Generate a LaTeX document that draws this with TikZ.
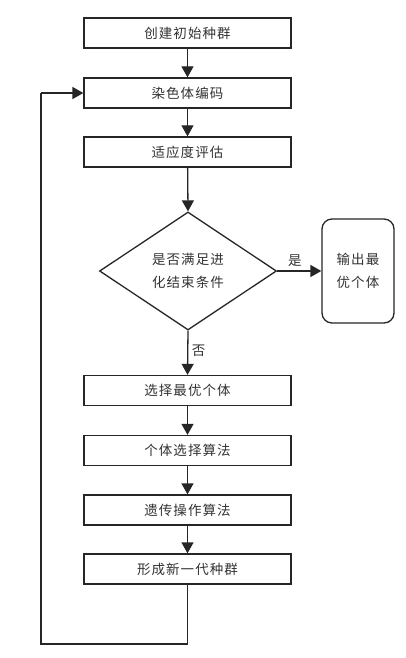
\documentclass[tikz,border=0pt]{standalone}
\usepackage{fontspec}
\newfontfamily\cjk[LetterSpace=8]{Noto Sans CJK SC}
\usetikzlibrary{shapes.geometric,arrows.meta}
\begin{document}
\begin{tikzpicture}[x=1pt,y=-1pt,
  every node/.style={font=\cjk\fontsize{13.5}{17}\selectfont, text=black!80},
  procbox/.style={draw=black!85, line width=1.3pt, minimum width=207pt, minimum height=30pt, inner sep=0pt},
  decide/.style={draw=black!85, line width=1.3pt, diamond, minimum width=177pt, minimum height=118pt, inner sep=0pt, align=center},
  outbox/.style={draw=black!85, line width=1.3pt, rounded corners=10pt, minimum width=72pt, minimum height=104pt, inner sep=0pt, align=center},
  flow/.style={draw=black!85, line width=1.3pt, -{Triangle[length=11pt,width=12pt]}},
  plain/.style={draw=black!85, line width=1.3pt},
  lbl/.style={font=\cjk\fontsize{13.5}{17}\selectfont}
]
\useasboundingbox (0,0) rectangle (405,658);
\fill[white] (0,0) rectangle (405,658);
\node[procbox] (b1) at (187.5,33) {创建初始种群};
\node[procbox] (b2) at (187.5,93) {染色体编码};
\node[procbox] (b3) at (187.5,152) {适应度评估};
\node[decide] (d) at (188,271) {是否满足进\\[6pt]化结束条件};
\node[outbox] (o) at (358,271) {输出最\\[6pt]优个体};
\node[procbox] (b4) at (187.5,390.5) {选择最优个体};
\node[procbox] (b5) at (187.5,450.5) {个体选择算法};
\node[procbox] (b6) at (187.5,510) {遗传操作算法};
\node[procbox] (b7) at (187.5,569) {形成新一代种群};
\coordinate (c1) at (187.5,644);
\coordinate (c2) at (41,644);
\coordinate (c3) at (41,93);
\draw[flow] (b1) -- (b2);
\draw[flow] (b2) -- (b3);
\draw[flow] (b3) -- (d.north);
\draw[flow] (d.east) -- node[lbl, above, pos=0.4] {是} (o.west);
\draw[flow] (d.south) -- node[lbl, right, pos=0.45] {否} (b4.north);
\draw[flow] (b4) -- (b5);
\draw[flow] (b5) -- (b6);
\draw[flow] (b6) -- (b7);
\draw[plain] (b7.south) -- (c1) -- (c2) -- (c3);
\draw[flow] (c3) -- (b2.west);
\end{tikzpicture}
\end{document}
